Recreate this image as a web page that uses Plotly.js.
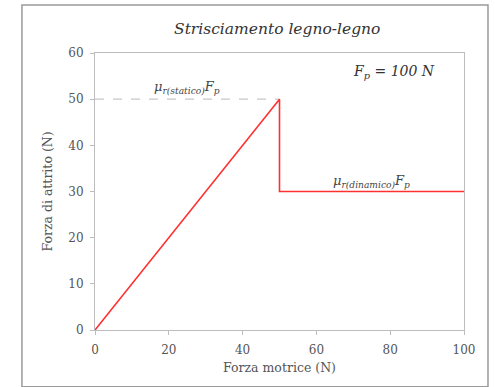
<!DOCTYPE html>
<html>
<head>
<meta charset="utf-8">
<script src="https://cdn.plot.ly/plotly-3.0.1.min.js"></script>
<style>html,body{margin:0;padding:0;background:#fff;}#chart{width:495px;height:387px;}</style>
</head>
<body>
<div id="chart"></div>
<script>
// Data
const forzaMotrice = [0, 50, 50, 100];
const forzaAttrito = [0, 50, 30, 30];
const staticRefX = [0, 50];
const staticRefY = [50, 50];
const xTicks = [0, 20, 40, 60, 80, 100];
const yTicks = [0, 10, 20, 30, 40, 50, 60];

const serif = "DejaVu Serif, Liberation Serif, serif";
const axisColor = "#bdbdbd";
const textColor = "#555555";

const traces = [
  {
    x: staticRefX, y: staticRefY, mode: "lines", type: "scatter",
    line: {color: "#c8c8c8", width: 1.2, dash: "dash"}, hoverinfo: "skip", showlegend: false
  },
  {
    x: forzaMotrice, y: forzaAttrito, mode: "lines", type: "scatter",
    line: {color: "#ff3030", width: 1.6}, showlegend: false
  }
];

const layout = {
  width: 495, height: 387,
  margin: {l: 95, r: 31, t: 53, b: 57},
  paper_bgcolor: "#ffffff", plot_bgcolor: "#ffffff",
  showlegend: false,
  title: {
    text: "<i>Strisciamento legno-legno</i>",
    font: {family: serif, size: 15.5, color: "#333333"},
    x: 0.56, xanchor: "center", y: 0.925, yanchor: "middle"
  },
  xaxis: {
    range: [0, 100], tickvals: xTicks, ticktext: xTicks.map(String),
    showgrid: false, zeroline: false, showline: true, linecolor: axisColor, linewidth: 1,
    mirror: true, ticks: "outside", ticklen: 4, tickcolor: axisColor,
    ticklabelstandoff: 5,
    tickfont: {family: serif, size: 12, color: textColor},
    title: {text: "Forza motrice (N)", font: {family: serif, size: 12.5, color: textColor}, standoff: 6}
  },
  yaxis: {
    range: [0, 60], tickvals: yTicks, ticktext: yTicks.map(String),
    showgrid: false, zeroline: false, showline: true, linecolor: axisColor, linewidth: 1,
    mirror: true, ticks: "outside", ticklen: 4, tickcolor: axisColor,
    ticklabelstandoff: 4,
    tickfont: {family: serif, size: 12, color: textColor},
    title: {text: "Forza di attrito (N)", font: {family: serif, size: 12.5, color: textColor}, standoff: 12}
  },
  annotations: [
    {
      x: 25, y: 50, xref: "x", yref: "y", yanchor: "bottom", yshift: 1, showarrow: false,
      text: "<i>μ<sub>r(statico)</sub>F<sub>p</sub></i>",
      font: {family: serif, size: 13, color: "#444444"}
    },
    {
      x: 75, y: 30, xref: "x", yref: "y", yanchor: "bottom", yshift: 0, showarrow: false,
      text: "<i>μ<sub>r(dinamico)</sub>F<sub>p</sub></i>",
      font: {family: serif, size: 13, color: "#444444"}
    },
    {
      x: 0.928, y: 0.93, xref: "paper", yref: "paper", xanchor: "right", yanchor: "middle", showarrow: false,
      text: "<i>F<sub>p</sub> = 100 N</i>",
      font: {family: serif, size: 14, color: "#333333"}
    }
  ],
  shapes: [
    {
      type: "rect", xref: "paper", yref: "paper",
      x0: -0.198, x1: 1.065, y0: -0.205, y1: 1.173,
      line: {color: "#9a9a9a", width: 1.5}, fillcolor: "rgba(0,0,0,0)", layer: "below"
    }
  ]
};

Plotly.newPlot("chart", traces, layout, {displayModeBar: false, staticPlot: true});
</script>
</body>
</html>
